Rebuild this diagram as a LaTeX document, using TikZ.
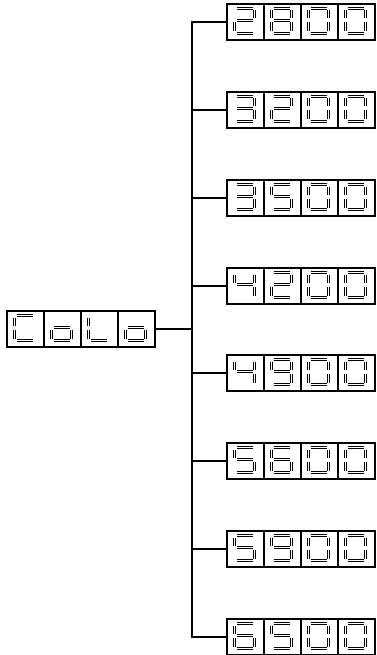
\documentclass[tikz,border=0pt]{standalone}
\usetikzlibrary{positioning}

% segment lists for the display glyphs
\expandafter\def\csname lcd0\endcsname{TL/TR,TR/MR,MR/BR,BL/BR,ML/BL,TL/ML}
\expandafter\def\csname lcd2\endcsname{TL/TR,TR/MR,ML/MR,ML/BL,BL/BR}
\expandafter\def\csname lcd3\endcsname{TL/TR,TR/MR,ML/MR,MR/BR,BL/BR}
\expandafter\def\csname lcd4\endcsname{TL/ML,ML/MR,TR/MR,MR/BR}
\expandafter\def\csname lcd5\endcsname{TL/TR,TL/ML,ML/MR,MR/BR,BL/BR}
\expandafter\def\csname lcd6\endcsname{TL/TR,TL/ML,ML/MR,ML/BL,MR/BR,BL/BR}
\expandafter\def\csname lcd8\endcsname{TL/TR,TR/MR,MR/BR,BL/BR,ML/BL,TL/ML,ML/MR}
\expandafter\def\csname lcd9\endcsname{TL/TR,TR/MR,MR/BR,BL/BR,TL/ML,ML/MR}
\expandafter\def\csname lcdC\endcsname{TL/TR,TL/ML,ML/BL,BL/BR}
\expandafter\def\csname lcdo\endcsname{ML/MR,MR/BR,BL/BR,ML/BL}
\expandafter\def\csname lcdL\endcsname{TL/ML,ML/BL,BL/BR}

\newcommand\lcd[2]{% cell node, glyph
  \expandafter\let\expandafter\lcdsegs\csname lcd#2\endcsname
  \begin{scope}[shift={(#1.north west)}]
    \coordinate (TL) at (8.5,5.5);  \coordinate (TR) at (28.5,5.5);
    \coordinate (ML) at (8.5,17.5); \coordinate (MR) at (28.5,17.5);
    \coordinate (BL) at (8.5,30.5); \coordinate (BR) at (28.5,30.5);
    \foreach \p/\q in \lcdsegs {\draw[segline] (\p) -- (\q);}
  \end{scope}}

\begin{document}
\begin{tikzpicture}[x=1pt,y=-1pt,
 cell/.style={draw,line width=2pt,minimum width=37pt,minimum height=36pt,inner sep=0pt},
 segline/.style={draw=black,line width=1.2pt,double=white,double distance=1.1pt,shorten <=2pt,shorten >=2pt},
 wire/.style={line width=2pt}]
\useasboundingbox (0,0) rectangle (376,655);
% left display
\foreach \g [count=\k] in {C,o,L,o} {
  \node[cell] (colo-\k) at ({-11.5+37*\k},329) {};
  \lcd{colo-\k}{\g}
}
\coordinate (jn) at (192,329);
\draw[wire] (colo-4.east) -- (jn);
% right displays
\foreach \da/\db/\y [count=\i] in {2/8/22,3/2/110,3/5/198,4/2/286,4/9/373,5/6/461,5/9/549,6/5/637} {
  \foreach \k in {1,...,4} \node[cell] (r\i-\k) at ({208.5+37*\k},\y) {};
  \lcd{r\i-1}{\da}
  \lcd{r\i-2}{\db}
  \lcd{r\i-3}{0}
  \lcd{r\i-4}{0}
  \draw[wire] (jn) |- (r\i-1.west);
}
\end{tikzpicture}
\end{document}
